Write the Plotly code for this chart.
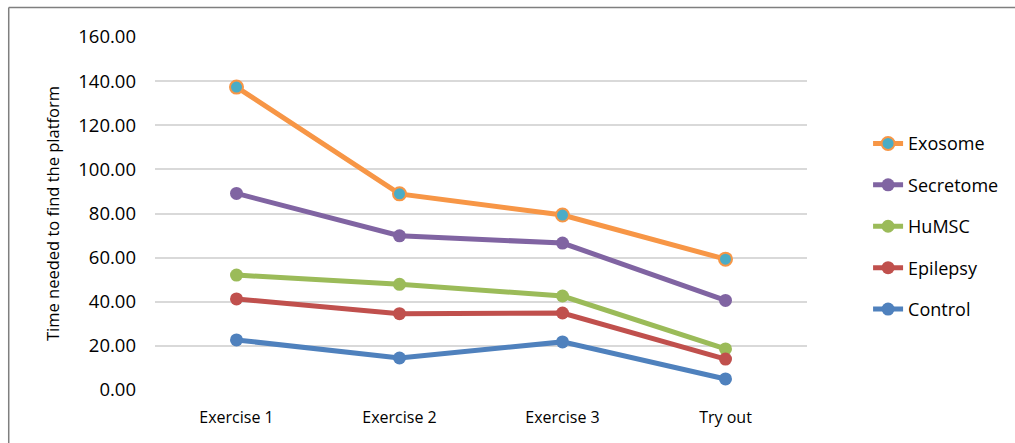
import plotly.graph_objects as go

categories = ["Exercise 1", "Exercise 2", "Exercise 3", "Try out"]
exosome = [137.3, 88.9, 79.3, 59.3]
secretome = [89.1, 69.9, 66.6, 40.6]
humsc = [52.1, 47.9, 42.6, 18.6]
epilepsy = [41.3, 34.6, 34.9, 14.0]
control = [22.7, 14.5, 21.8, 5.0]

series = [
    ("Exosome", exosome, "#F79646", "#4BACC6"),
    ("Secretome", secretome, "#8064A2", "#8064A2"),
    ("HuMSC", humsc, "#9BBB59", "#9BBB59"),
    ("Epilepsy", epilepsy, "#C0504D", "#C0504D"),
    ("Control", control, "#4F81BD", "#4F81BD"),
]

fig = go.Figure()
for name, vals, line_col, fill_col in series:
    fig.add_trace(go.Scatter(
        x=categories, y=vals, name=name, mode="lines+markers",
        legendgroup=name,
        line=dict(color=line_col, width=5),
        marker=dict(size=13, color=fill_col,
                    line=dict(color=line_col, width=2 if fill_col != line_col else 0)),
    ))

W, H = 1015, 443
L, R, T, B = 155, 207, 37, 53
pw, ph = W - L - R, H - T - B


def px_x(v):
    return (v - L) / pw


def px_y(v):
    return (H - B - v) / ph


fig.update_layout(
    width=W, height=H,
    margin=dict(l=L, r=R, t=T, b=B),
    paper_bgcolor="white", plot_bgcolor="white",
    font=dict(family="Open Sans, Liberation Sans, sans-serif", size=15, color="#000000"),
    showlegend=True,
    legend=dict(
        x=1.092, y=0.75, xanchor="left", yanchor="top",
        traceorder="grouped", tracegroupgap=15,
        font=dict(size=18), bgcolor="rgba(0,0,0,0)",
    ),
    xaxis=dict(
        type="category", range=[-0.5, 3.5], showgrid=False, zeroline=False, showline=False,
        ticks="", ticklabelstandoff=16, tickfont=dict(size=16),
    ),
    yaxis=dict(
        range=[0, 160], dtick=20, tickformat=".2f",
        showgrid=True, gridcolor="#D9D9D9", gridwidth=1.5,
        zeroline=False, showline=False, ticks="", ticklabelstandoff=18,
        tickfont=dict(size=18.5),
        title=dict(text="Time needed to find the platform", font=dict(size=16.5), standoff=14),
    ),
    shapes=[
        dict(type="line", xref="paper", yref="paper",
             x0=px_x(8.5), x1=px_x(8.5), y0=px_y(460), y1=px_y(7.5),
             line=dict(color="#7F7F7F", width=1.5)),
        dict(type="line", xref="paper", yref="paper",
             x0=px_x(8.5), x1=px_x(1030), y0=px_y(7.5), y1=px_y(7.5),
             line=dict(color="#7F7F7F", width=1.5)),
    ],
)

fig.write_html("out.html")
